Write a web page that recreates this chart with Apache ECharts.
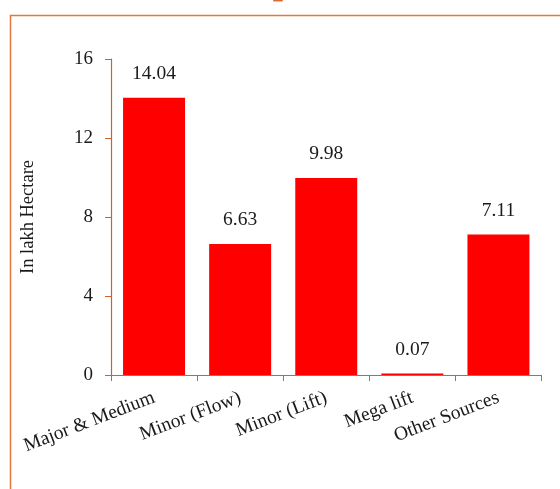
<!DOCTYPE html>
<html><head><meta charset="utf-8">
<script src="https://cdn.jsdelivr.net/npm/echarts@6/dist/echarts.min.js"></script>
<style>html,body{margin:0;padding:0;background:#fff}#c{width:560px;height:489px}</style>
</head><body><div id="c"></div>
<script>
const categories = ["Major & Medium", "Minor (Flow)", "Minor (Lift)", "Mega lift", "Other Sources"];
const values = [14.04, 6.63, 9.98, 0.07, 7.11];
const yTicks = [0, 4, 8, 12, 16];

const axisColor = "#C9642C";
const font = "'Liberation Serif', 'DejaVu Serif', serif";
const chart = echarts.init(document.getElementById('c'), null, {renderer: 'canvas'});
chart.setOption({
  animation: false,
  graphic: [
    {type: 'rect', shape: {x: 10.5, y: 15.5, width: 600, height: 600}, style: {fill: 'none', stroke: '#E07A3A', lineWidth: 1.5}, silent: true},
    {type: 'rect', shape: {x: 273, y: -2, width: 10, height: 3.5, r: 1.5}, style: {fill: '#E06A30'}, silent: true}
  ],
  grid: {left: 111, right: 18.5, top: 59, bottom: 114, containLabel: false},
  xAxis: {
    type: 'category', data: categories,
    axisLine: {lineStyle: {color: axisColor, width: 1.2}},
    axisTick: {show: true, alignWithLabel: false, length: 6, lineStyle: {color: axisColor}},
    axisLabel: {rotate: 21, margin: 22, fontFamily: font, fontSize: 19.5, color: '#1a1a1a', interval: 0}
  },
  yAxis: {
    type: 'value', min: yTicks[0], max: yTicks[yTicks.length - 1], interval: 4,
    name: 'In lakh Hectare', nameLocation: 'middle', nameGap: 73, nameRotate: 90,
    nameTextStyle: {fontFamily: font, fontSize: 18.5, color: '#1a1a1a'},
    axisLine: {show: true, lineStyle: {color: axisColor, width: 1.2}},
    axisTick: {show: true, length: 6, lineStyle: {color: axisColor}},
    splitLine: {show: false},
    axisLabel: {margin: 18, fontFamily: font, fontSize: 19, color: '#1a1a1a'}
  },
  series: [{
    type: 'bar', data: values, barCategoryGap: '28%',
    itemStyle: {color: '#FF0000'},
    label: {show: true, position: 'top', distance: 14, fontFamily: font, fontSize: 19.5, color: '#1a1a1a',
      formatter: p => p.value.toFixed(2)}
  }]
});
</script></body></html>
